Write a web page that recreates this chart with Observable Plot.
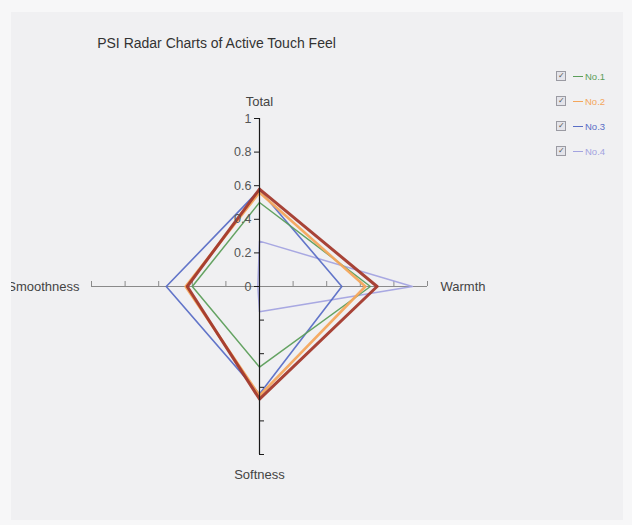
<!DOCTYPE html>
<html>
<head>
<meta charset="utf-8">
<script src="https://cdn.jsdelivr.net/npm/d3@7"></script>
<script src="https://cdn.jsdelivr.net/npm/@observablehq/plot@0.6"></script>
<style>
  html, body { margin: 0; padding: 0; }
  body { width: 632px; height: 525px; background: #f7f7f8; position: relative; overflow: hidden;
         font-family: "Liberation Sans", Arial, sans-serif; }
  #panel { position: absolute; left: 11px; top: 12px; width: 612px; height: 508px; background: #f0f0f2; overflow: hidden; }
  #chart { position: absolute; left: -11px; top: -12px; width: 632px; height: 525px; }
  #chart svg { max-width: none !important; width: 632px; height: 525px; }
  #title { position: absolute; left: 0; width: 433px; top: 35px; text-align: center; font-size: 14px; color: #333; }
  .leg { position: absolute; left: 556px; height: 12px; display: flex; align-items: center; font-size: 9.5px; }
  .cb { width: 8px; height: 8px; border: 1px solid #9a9aa2; background: #e4e4ea; font-size: 8px; line-height: 8px;
        text-align: center; color: #555; margin-right: 7px; }
  .ln { width: 10px; height: 1px; margin-right: 2px; }
</style>
</head>
<body>
<div id="panel"><div id="chart"></div></div>
<div id="title">PSI Radar Charts of Active Touch Feel</div>
<div id="legend"></div>
<script>
// ---- data ----
const series = ["No.1", "No.2", "No.3", "No.4", "No.5"];
const colors = ["#5c9e5a", "#f4a65c", "#5a6ec6", "#a3a3e0", "#a3392c"];
const axes = ["Total", "Warmth", "Softness", "Smoothness"];
const total      = [0.50, 0.56, 0.575, 0.27, 0.58];
const warmth     = [0.66, 0.63, 0.49, 0.91, 0.70];
const softness   = [0.48, 0.65, 0.64, 0.15, 0.67];
const smoothness = [0.40, 0.44, 0.555, 0.01, 0.43];
const tickValues = [0, 0.2, 0.4, 0.6, 0.8, 1];
const tickLabels = ["0", "0.2", "0.4", "0.6", "0.8", "1"];
const legendSeries = ["No.1", "No.2", "No.3", "No.4"];

// ---- layout ----
const W = 632, H = 525, CX = 259, CY = 286, R = 168;
const dirs = {Total: [0, 1], Warmth: [1, 0], Softness: [0, -1], Smoothness: [-1, 0]};
const valuesByAxis = {Total: total, Warmth: warmth, Softness: softness, Smoothness: smoothness};

const rows = [];
series.forEach((s, i) => {
  [...axes, axes[0]].forEach((a, k) => {
    const v = valuesByAxis[a][i];
    rows.push({series: s, order: k, axis: a, x: dirs[a][0] * v, y: dirs[a][1] * v});
  });
});

const widths = {"No.1": 1.5, "No.2": 2.6, "No.3": 1.6, "No.4": 1.5, "No.5": 3};
const drawOrder = ["No.4", "No.3", "No.1", "No.2", "No.5"];
const tk = 5 / R;
const pos = tickValues.filter(d => d > 0);

const plot = Plot.plot({
  width: W, height: H, margin: 0,
  x: {domain: [-CX / R, (W - CX) / R], axis: null},
  y: {domain: [-(H - CY) / R, CY / R], axis: null},
  style: {background: "transparent", fontFamily: "Liberation Sans, Arial, sans-serif", overflow: "visible", maxWidth: "none"},
  marks: [
    Plot.ruleY([0], {x1: -1, x2: 1, stroke: "#8a8a8a", strokeWidth: 1.2}),
    Plot.ruleX(pos, {x: d => d, y1: 0, y2: tk, stroke: "#8a8a8a"}),
    Plot.ruleX(pos, {x: d => -d, y1: 0, y2: tk, stroke: "#8a8a8a"}),
    ...drawOrder.map(s => Plot.line(rows.filter(r => r.series === s), {
      x: "x", y: "y", sort: "order", stroke: colors[series.indexOf(s)], strokeWidth: widths[s], strokeOpacity: 0.95
    })),
    Plot.ruleX([0], {y1: -1, y2: 1, stroke: "#1a1a1a", strokeWidth: 1.2}),
    Plot.ruleY(tickValues, {y: d => d, x1: 0, x2: -tk, stroke: "#1a1a1a"}),
    Plot.ruleY(pos, {y: d => -d, x1: 0, x2: tk, stroke: "#1a1a1a"}),
    Plot.text(tickValues, {x: 0, y: d => d, text: (d, i) => tickLabels[i], textAnchor: "end", dx: -8, fontSize: 12.5, fill: "#555"}),
    Plot.text(["Total"], {x: 0, y: 1, text: d => d, dy: -17, fontSize: 13, fill: "#444"}),
    Plot.text(["Warmth"], {x: 1, y: 0, text: d => d, dx: 13, textAnchor: "start", fontSize: 13, fill: "#444"}),
    Plot.text(["Softness"], {x: 0, y: -1, text: d => d, dy: 20, fontSize: 13, fill: "#444"}),
    Plot.text(["Smoothness"], {x: -1, y: 0, text: d => d, dx: -12, textAnchor: "end", fontSize: 13, fill: "#444"})
  ]
});
document.getElementById("chart").appendChild(plot);

// ---- legend ----
const leg = document.getElementById("legend");
legendSeries.forEach((s, i) => {
  const c = colors[series.indexOf(s)];
  const d = document.createElement("div");
  d.className = "leg";
  d.style.top = (70 + i * 25) + "px";
  d.innerHTML = `<div class="cb">✓</div><div class="ln" style="background:${c}"></div><span style="color:${c}">${s}</span>`;
  leg.appendChild(d);
});
</script>
</body>
</html>
